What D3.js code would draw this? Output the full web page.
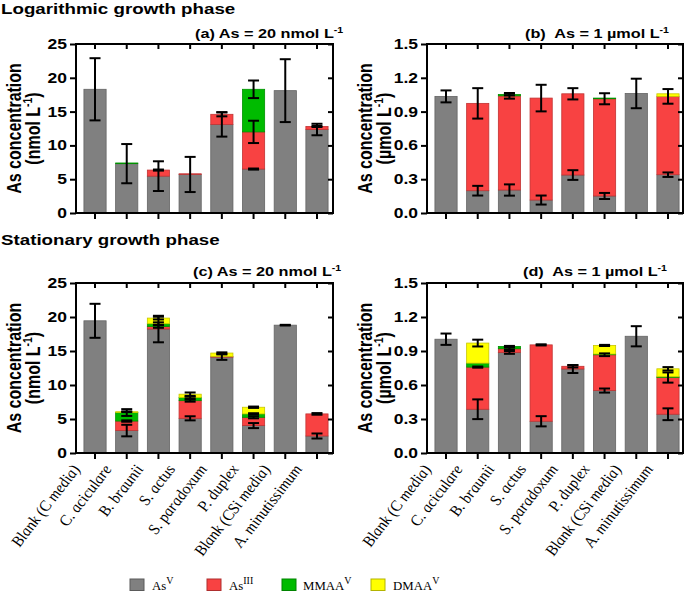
<!DOCTYPE html>
<html><head><meta charset="utf-8">
<script src="https://cdn.jsdelivr.net/npm/d3@7"></script>
<style>body{margin:0;background:#fff}svg{display:block}</style>
</head><body><svg id="c" width="685" height="592"></svg>
<script>
// ---------------- DATA ----------------
const categories = ["Blank (C media)","C. aciculare","B. braunii","S. actus","S. paradoxum","P. duplex","Blank (CSi media)","A. minutissimum"];
const speciesKeys = ["AsV","AsIII","MMAAV","DMAAV"];
const yTicksNmol = [0,5,10,15,20,25];
const yTicksUmol = [0,0.3,0.6,0.9,1.2,1.5];

// (a) logarithmic phase, As = 20 nmol/L  (segment values, nmol/L)
const logNmolAsV   = [18.3, 7.3, 5.45, 5.7, 13.1, 6.5, 18.1, 12.35];
const logNmolAsIII = [0, 0, 0.9, 0.1, 1.5, 5.5, 0, 0.45];
const logNmolMMAA  = [0, 0.1, 0, 0, 0, 6.3, 0, 0];
const logNmolDMAA  = [0, 0, 0, 0, 0, 0, 0, 0];
const logNmolAsVErr   = [4.6, 2.9, 2.2, 2.6, 1.8, 0.08, 4.65, 0.85];
const logNmolAsIIIErr = [0, 0, 0.08, 0, 0.3, 1.65, 0, 0.08];
const logNmolMMAAErr  = [0, 0, 0, 0, 0, 1.3, 0, 0];
const logNmolDMAAErr  = [0, 0, 0, 0, 0, 0, 0, 0];

// (b) logarithmic phase, As = 1 µmol/L (µmol/L)
const logUmolAsV   = [1.035, 0.198, 0.204, 0.115, 0.337, 0.151, 1.061, 0.34];
const logUmolAsIII = [0, 0.775, 0.836, 0.905, 0.721, 0.863, 0, 0.695];
const logUmolMMAA  = [0, 0, 0.012, 0, 0, 0.006, 0, 0];
const logUmolDMAA  = [0, 0, 0, 0, 0, 0, 0, 0.023];
const logUmolAsVErr   = [0.053, 0.043, 0.05, 0.04, 0.043, 0.027, 0.131, 0.02];
const logUmolAsIIIErr = [0, 0.135, 0.025, 0.118, 0.05, 0.049, 0, 0.065];
const logUmolMMAAErr  = [0, 0, 0.008, 0, 0, 0, 0, 0];
const logUmolDMAAErr  = [0, 0, 0, 0, 0, 0, 0, 0];

// (c) stationary phase, As = 20 nmol/L
const statNmolAsV   = [19.44, 3.3, 18.23, 5.1, 14.1, 4.03, 18.8, 2.5];
const statNmolAsIII = [0, 1.4, 0.38, 2.6, 0.1, 1.22, 0, 3.25];
const statNmolMMAA  = [0, 1.25, 0.4, 0.45, 0, 0.5, 0, 0];
const statNmolDMAA  = [0, 0.12, 0.83, 0.5, 0.5, 0.98, 0, 0];
const statNmolAsVErr   = [2.5, 0.85, 1.95, 0.3, 0.4, 0.37, 0.05, 0.37];
const statNmolAsIIIErr = [0, 0.1, 0.2, 0.15, 0, 0.15, 0, 0.12];
const statNmolMMAAErr  = [0, 0.5, 0.2, 0.15, 0, 0.1, 0, 0];
const statNmolDMAAErr  = [0, 0.05, 0.2, 0.25, 0.1, 0.1, 0, 0];

// (d) stationary phase, As = 1 µmol/L
const statUmolAsV   = [1.004, 0.386, 0.887, 0.28, 0.741, 0.551, 1.03, 0.342];
const statUmolAsIII = [0, 0.372, 0.033, 0.674, 0.024, 0.316, 0, 0.324];
const statUmolMMAA  = [0, 0.035, 0.02, 0, 0, 0.006, 0, 0.007];
const statUmolDMAA  = [0, 0.177, 0, 0, 0, 0.076, 0, 0.07];
const statUmolAsVErr   = [0.05, 0.087, 0.012, 0.045, 0.035, 0.018, 0.089, 0.052];
const statUmolAsIIIErr = [0, 0.005, 0.01, 0.005, 0.01, 0.012, 0, 0.045];
const statUmolMMAAErr  = [0, 0, 0.005, 0, 0, 0, 0, 0];
const statUmolDMAAErr  = [0, 0.03, 0, 0, 0, 0.005, 0, 0.015];

// ---------------- STYLE ----------------
const colors = {AsV:"#808080", AsIII:"#f84242", MMAAV:"#00bb00", DMAAV:"#ffff00"};
const SANS = "'Liberation Sans', Arial, sans-serif";
const SERIF = "'Liberation Serif', 'Times New Roman', serif";
const SX = 1.25;

const svg = d3.select("#c");

function txt(parent, x, y, parts, o) {
  const size = o.size;
  const supR = o.supR || 0.65;
  let tr = `translate(${x},${y}) scale(${o.sx ?? SX},1)`;
  if (o.rot) tr += ` rotate(${o.rot})`;
  const t = parent.append("text")
    .attr("transform", tr)
    .attr("text-anchor", o.anchor || "start")
    .style("font-family", o.family || SANS)
    .style("font-size", size + "px")
    .style("font-weight", o.weight || "normal")
    .style("font-style", o.style || "normal")
    .attr("fill", "#000");
  let raised = false;
  parts.forEach(p => {
    const s = typeof p === "string" ? {t:p} : p;
    const ts = t.append("tspan").text(s.t);
    if (s.sup) {
      ts.style("font-size", (size * supR) + "px").attr("dy", -size * 0.42);
      raised = true;
    } else if (raised) {
      ts.attr("dy", size * 0.42);
      raised = false;
    }
  });
  return t;
}

const panels = [
  {left:76, right:333, top:44, bottom:213, yMax:25, ticks:yTicksNmol, fmt:d3.format("d"),
   vals:[logNmolAsV, logNmolAsIII, logNmolMMAA, logNmolDMAA],
   errs:[logNmolAsVErr, logNmolAsIIIErr, logNmolMMAAErr, logNmolDMAAErr],
   title:["(a) As = 20 nmol L", {t:"-1", sup:true}], titleX:195, titleY:38,
   unit:["(nmol L", {t:"-1", sup:true}, ")"], xlabels:false},
  {left:427, right:683, top:44, bottom:213, yMax:1.5, ticks:yTicksUmol, fmt:d3.format(".1f"),
   vals:[logUmolAsV, logUmolAsIII, logUmolMMAA, logUmolDMAA],
   errs:[logUmolAsVErr, logUmolAsIIIErr, logUmolMMAAErr, logUmolDMAAErr],
   title:["(b)\u00a0 As = 1 µmol L", {t:"-1", sup:true}], titleX:525, titleY:38,
   unit:["(µmol L", {t:"-1", sup:true}, ")"], xlabels:false},
  {left:76, right:333, top:283, bottom:453, yMax:25, ticks:yTicksNmol, fmt:d3.format("d"),
   vals:[statNmolAsV, statNmolAsIII, statNmolMMAA, statNmolDMAA],
   errs:[statNmolAsVErr, statNmolAsIIIErr, statNmolMMAAErr, statNmolDMAAErr],
   title:["(c) As = 20 nmol L", {t:"-1", sup:true}], titleX:193, titleY:276,
   unit:["(nmol L", {t:"-1", sup:true}, ")"], xlabels:true},
  {left:427, right:683, top:283, bottom:453, yMax:1.5, ticks:yTicksUmol, fmt:d3.format(".1f"),
   vals:[statUmolAsV, statUmolAsIII, statUmolMMAA, statUmolDMAA],
   errs:[statUmolAsVErr, statUmolAsIIIErr, statUmolMMAAErr, statUmolDMAAErr],
   title:["(d)\u00a0 As = 1 µmol L", {t:"-1", sup:true}], titleX:523, titleY:276,
   unit:["(µmol L", {t:"-1", sup:true}, ")"], xlabels:true}
];

// section headings
txt(svg, 1, 14, ["Logarithmic growth phase"], {size:15, weight:"bold"});
txt(svg, 1, 245, ["Stationary growth phase"], {size:15, weight:"bold"});

panels.forEach(p => {
  const g = svg.append("g");
  const x = d3.scaleBand().domain(categories).range([p.left, p.left + 260]).paddingInner(0.3).paddingOuter(0.25);
  const y = d3.scaleLinear().domain([0, p.yMax]).range([p.bottom, p.top]);

  const rows = categories.map((c, i) => {
    const r = {cat:c};
    speciesKeys.forEach((k, j) => { r[k] = p.vals[j][i]; r[k + "_err"] = p.errs[j][i]; });
    return r;
  });
  const stack = d3.stack().keys(speciesKeys)(rows);

  // bars
  stack.forEach(layer => {
    const col = colors[layer.key];
    g.append("g").selectAll("rect")
      .data(layer.filter(d => d[1] - d[0] > 0))
      .join("rect")
      .attr("x", d => x(d.data.cat))
      .attr("width", x.bandwidth())
      .attr("y", d => y(d[1]))
      .attr("height", d => y(d[0]) - y(d[1]))
      .attr("fill", col)
      .attr("stroke", d3.color(col).darker(0.7))
      .attr("stroke-width", 0.8);
  });

  // error bars
  const cap = 5.5;
  stack.forEach(layer => {
    const eg = g.append("g").attr("stroke", "#000").attr("stroke-width", 2).attr("fill", "none");
    layer.filter(d => d[1] - d[0] > 0 && d.data[layer.key + "_err"] > 0).forEach(d => {
      const cx = x(d.data.cat) + x.bandwidth() / 2;
      const e = d.data[layer.key + "_err"];
      const y1 = y(d[1] + e), y2 = y(d[1] - e);
      eg.append("line").attr("x1", cx).attr("x2", cx).attr("y1", y1).attr("y2", y2);
      eg.append("line").attr("x1", cx - cap).attr("x2", cx + cap).attr("y1", y1).attr("y2", y1);
      eg.append("line").attr("x1", cx - cap).attr("x2", cx + cap).attr("y1", y2).attr("y2", y2);
    });
  });

  // axes
  const yl = g.append("g").attr("transform", `translate(${p.left},0)`)
    .call(d3.axisLeft(y).tickValues(p.ticks).tickSize(6).tickPadding(3).tickFormat(p.fmt));
  yl.select(".domain").remove();
  yl.selectAll("line").attr("stroke-width", 2);
  yl.selectAll("text")
    .attr("x", 0).attr("transform", "translate(-9,0) scale(" + SX + ",1)")
    .style("font-family", SANS).style("font-size", "14px").style("font-weight", "bold");

  const yr = g.append("g").attr("transform", `translate(${p.right},0)`)
    .call(d3.axisLeft(y).tickValues(p.ticks).tickSize(5).tickFormat(""));
  yr.select(".domain").remove();
  yr.selectAll("line").attr("stroke-width", 2);

  const xb = g.append("g").attr("transform", `translate(0,${p.bottom})`)
    .call(d3.axisBottom(x).tickSize(6).tickFormat(""));
  xb.select(".domain").remove();
  xb.selectAll("line").attr("stroke-width", 2);

  const xt = g.append("g").attr("transform", `translate(0,${p.top})`)
    .call(d3.axisBottom(x).tickSize(5).tickFormat(""));
  xt.select(".domain").remove();
  xt.selectAll("line").attr("stroke-width", 2);

  g.append("rect").attr("x", p.left).attr("y", p.top)
    .attr("width", p.right - p.left).attr("height", p.bottom - p.top)
    .attr("fill", "none").attr("stroke", "#000").attr("stroke-width", 2);

  // titles
  txt(g, p.titleX, p.titleY, p.title, {size:13, weight:"bold"});
  const cy = (p.top + p.bottom) / 2;
  txt(g, p.left - 55, cy, ["As concentration"], {size:16, weight:"bold", rot:-90, anchor:"middle"});
  txt(g, p.left - 36, cy, p.unit, {size:16, weight:"bold", rot:-90, anchor:"middle"});

  // category labels
  if (p.xlabels) {
    categories.forEach(c => {
      const cx = x(c) + x.bandwidth() / 2;
      txt(g, cx - 14, p.bottom + 16, [c], {size:14, family:SERIF, style:"italic", rot:-58, anchor:"end", sx:SX});
    });
  }
});

// legend
const legendItems = [
  {key:"AsV", parts:["As", {t:"V", sup:true}], sx:130, tx:152},
  {key:"AsIII", parts:["As", {t:"III", sup:true}], sx:207, tx:229},
  {key:"MMAAV", parts:["MMAA", {t:"V", sup:true}], sx:282, tx:303},
  {key:"DMAAV", parts:["DMAA", {t:"V", sup:true}], sx:371, tx:393}
];
const lg = svg.append("g");
legendItems.forEach(it => {
  lg.append("rect").attr("x", it.sx).attr("y", 579).attr("width", 14).attr("height", 11.5)
    .attr("fill", colors[it.key]).attr("stroke", d3.color(colors[it.key]).darker(1)).attr("stroke-width", 1);
  txt(lg, it.tx, 590, it.parts, {size:13.5, family:SERIF, sx:0.95, supR:0.78});
});
</script></body></html>
